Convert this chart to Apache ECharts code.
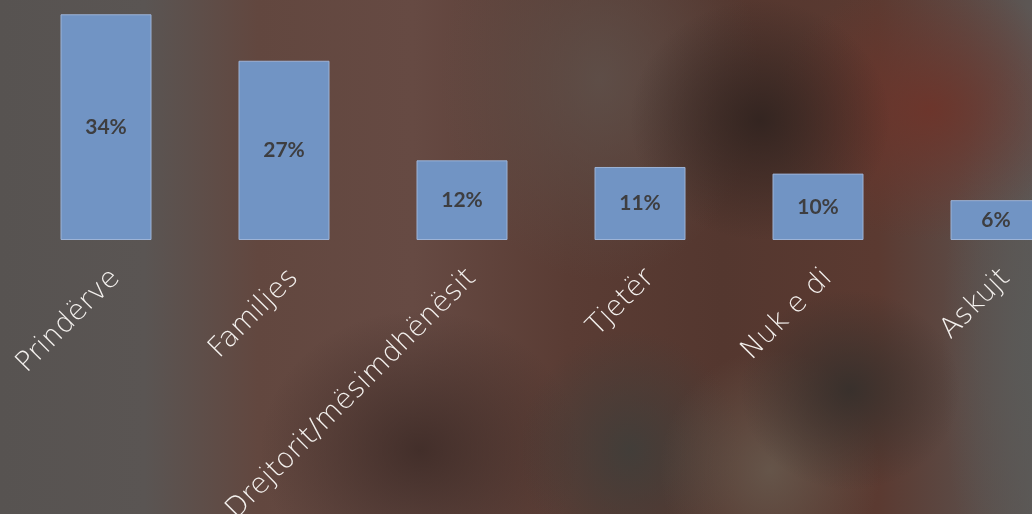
<!DOCTYPE html>
<html>
<head>
<meta charset="utf-8">
<script src="https://cdn.jsdelivr.net/npm/echarts@6/dist/echarts.min.js"></script>
<style>
html,body{margin:0;padding:0;width:1032px;height:514px;overflow:hidden;}
body{
background:
 radial-gradient(ellipse 130px 120px at 760px 120px, rgba(50,36,32,0.95), rgba(50,36,32,0) 100%),
 radial-gradient(ellipse 160px 130px at 930px 110px, rgba(110,52,42,0.9), rgba(110,52,42,0) 100%),
 radial-gradient(ellipse 110px 100px at 850px 390px, rgba(55,48,44,0.95), rgba(55,48,44,0) 100%),
 radial-gradient(ellipse 110px 120px at 770px 470px, rgba(104,90,78,0.85), rgba(104,90,78,0) 100%),
 radial-gradient(ellipse 110px 120px at 630px 450px, rgba(64,62,58,0.9), rgba(64,62,58,0) 100%),
 radial-gradient(ellipse 160px 140px at 420px 450px, rgba(58,40,36,0.8), rgba(58,40,36,0) 100%),
 radial-gradient(ellipse 160px 200px at 600px 80px, rgba(95,82,76,0.8), rgba(95,82,76,0) 100%),
 radial-gradient(ellipse 90px 300px at 1032px 350px, rgba(90,90,88,0.9), rgba(90,90,88,0) 100%),
 linear-gradient(90deg, #575351 0%, #5a5553 14%, #62473f 25%, #664a43 40%, #5a3c34 55%, #54372f 70%, #5b3a31 85%, #5c5755 100%);
}
#c{width:1085px;height:514px;}
</style>
</head>
<body>
<div id="c"></div>
<script>
var categories = ["Prindërve", "Familjes", "Drejtorit/mësimdhënësit", "Tjetër", "Nuk e di", "Askujt"];
var values = [34, 27, 12, 11, 10, 6];

var chart = echarts.init(document.getElementById('c'), null, {renderer: 'canvas'});
chart.setOption({
  backgroundColor: 'transparent',
  animation: false,
  grid: {left: 17, right: 0, top: 1, bottom: 274, containLabel: false, outerBoundsMode: 'none'},
  xAxis: {
    type: 'category',
    data: categories,
    axisLine: {show: false},
    axisTick: {show: false},
    axisLabel: {
      rotate: 45,
      margin: 24,
      interval: 0,
      align: 'right',
      verticalAlign: 'top',
      color: '#f4f1ee',
      fontSize: 28,
      fontWeight: 200,
      fontFamily: 'DejaVu Sans, Open Sans, sans-serif'
    }
  },
  yAxis: {
    type: 'value',
    min: 0,
    max: 36,
    show: false,
    splitLine: {show: false}
  },
  series: [{
    type: 'bar',
    data: values,
    barWidth: 91,
    itemStyle: {color: '#7194c4', borderColor: '#9db3d6', borderWidth: 1},
    label: {
      show: true,
      position: 'inside',
      formatter: '{c}%',
      color: '#3e3e40',
      fontSize: 21,
      fontWeight: 'bold',
      fontFamily: 'Lato, Open Sans, sans-serif'
    }
  }]
});
</script>
</body>
</html>
